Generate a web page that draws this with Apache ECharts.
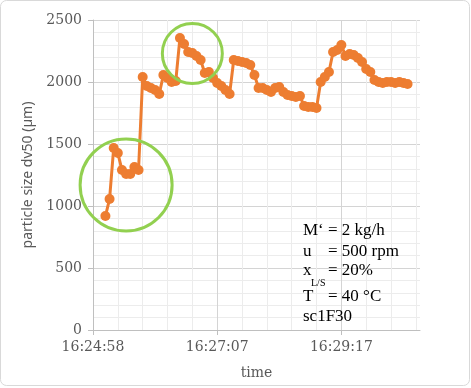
<!DOCTYPE html>
<html><head><meta charset="utf-8">
<script src="https://cdn.jsdelivr.net/npm/echarts@6/dist/echarts.min.js"></script>
<style>html,body{margin:0;padding:0;background:#fff}#c{width:471px;height:388px}</style>
</head><body><div id="c"></div>
<script>
// time categories (one sample every ~4.3 s)
const startTime = '16:24:58';
const stepSeconds = 4.32;
const categoryCount = 80;
const tickLabels = ['16:24:58', '16:27:07', '16:29:17'];
// first measured sample sits at category index 3
const firstIndex = 3;
const dv50 = [919, 1056, 1468, 1427, 1290, 1258, 1258, 1315, 1290,
  2040, 1968, 1952, 1935, 1903, 2056, 2032, 2000, 2008,
  2355, 2306, 2242, 2234, 2210, 2177, 2073, 2081, 2032, 1992, 1968, 1935, 1903,
  2177, 2169, 2161, 2153, 2137, 2056, 1952, 1952, 1935, 1919, 1952, 1960, 1919,
  1895, 1887, 1879, 1887, 1806, 1798, 1798, 1790,
  2000, 2040, 2081, 2242, 2258, 2298, 2210, 2226, 2218, 2194, 2161, 2105, 2081,
  2016, 2000, 1992, 2000, 2000, 1992, 2000, 1992, 1984];
const yTicks = [0, 500, 1000, 1500, 2000, 2500];
// highlighted regions: [category index, value, pixel radius]
const highlights = [[7.5, 1170, 46], [24.3, 2230, 30]];
const annotation = [
  ['M\u2018', '= 2 kg/h'],
  ['u', '= 500 rpm'],
  ['x', '= 20%', 'L/S'],
  ['T', '= 40 \u00b0C'],
  ['sc1F30', '']
];

function fmt(sec){
  const [h,m,s] = startTime.split(':').map(Number);
  let t = h*3600+m*60+s+Math.floor(sec);
  const hh = Math.floor(t/3600), mm = Math.floor(t%3600/60), ss = t%60;
  return hh+':'+String(mm).padStart(2,'0')+':'+String(ss).padStart(2,'0');
}
const categories = [];
for (let i=0;i<categoryCount;i++) categories.push(fmt(i*stepSeconds));
[0,30,60].forEach((k,j)=>categories[k]=tickLabels[j]);
const seriesData = categories.map((c,i)=> (i>=firstIndex && i-firstIndex<dv50.length) ? dv50[i-firstIndex] : '-');

const serif = 'DejaVu Serif';
const chart = echarts.init(document.getElementById('c'), null, {renderer:'canvas'});
const axisGrey = '#bfbfbf';
chart.setOption({
  animation:false,
  backgroundColor:'#fff',
  grid:{left:93,right:51,top:20,bottom:58,containLabel:false},
  xAxis:[{
    type:'category', data:categories, boundaryGap:false,
    name:'time', nameLocation:'middle', nameGap:36,
    nameTextStyle:{fontFamily:serif,fontSize:14,color:'#595959'},
    axisLine:{lineStyle:{color:axisGrey}},
    axisTick:{show:true,interval:29,length:5,lineStyle:{color:axisGrey},alignWithLabel:true},
    axisLabel:{interval:29,fontFamily:serif,fontSize:14,color:'#595959',margin:10,
      formatter:(v)=> tickLabels.includes(v)? v : ''},
    splitLine:{show:true,interval:5,lineStyle:{color:'#ececec',width:1}}
  },{
    type:'category', data:categories, boundaryGap:false, position:'bottom',
    axisLine:{show:false}, axisTick:{show:false}, axisLabel:{show:false},
    splitLine:{show:true,interval:29,lineStyle:{color:'#d4d4d4',width:1}}
  }],
  yAxis:{
    type:'value', min:0, max:2500, interval:500,
    name:'particle size dv50 (\u00b5m)', nameLocation:'middle', nameGap:57,
    nameTextStyle:{fontFamily:'Noto Sans',fontSize:14,color:'#595959'},
    axisLine:{show:true,lineStyle:{color:axisGrey}},
    axisTick:{show:true,length:5,lineStyle:{color:axisGrey}},
    axisLabel:{fontFamily:serif,fontSize:14,color:'#595959',margin:11,
      formatter:(v)=> yTicks.includes(v)? String(v):''},
    splitLine:{show:true,lineStyle:{color:'#d4d4d4'}},
    minorTick:{show:false,splitNumber:5},
    minorSplitLine:{show:true,lineStyle:{color:'#ececec'}}
  },
  series:[{
    type:'line', data:seriesData, xAxisIndex:0,
    symbol:'circle', symbolSize:10, showSymbol:true, showAllSymbol:true,
    itemStyle:{color:'#ED7D31'},
    lineStyle:{color:'#ED7D31',width:3},
    connectNulls:false
  }]
});

const g = [];
g.push({type:'rect',shape:{x:0.5,y:0.5,width:469,height:385,r:6},
  style:{fill:'none',stroke:'#d9d9d9',lineWidth:1},z:-10, silent:true});
highlights.forEach(h=>{
  const p = chart.convertToPixel({seriesIndex:0},[h[0],h[1]]);
  g.push({type:'circle',shape:{cx:p[0],cy:p[1],r:h[2]},
    style:{fill:'none',stroke:'#92D050',lineWidth:3},z:100});
});
const tfont = '17px "Liberation Serif"';
const ax = 303, ex = 328;
const lineY = [231, 252, 271, 297, 317];
annotation.forEach((a,i)=>{
  const y = lineY[i];
  g.push({type:'text',x:ax,y:y,style:{text:a[0],font:tfont,fill:'#000',textVerticalAlign:'middle'},z:101});
  if (a[2]) g.push({type:'text',x:ax+8,y:y+12,style:{text:a[2],font:'10px "Liberation Serif"',fill:'#000',textVerticalAlign:'middle'},z:101});
  if (a[1]) g.push({type:'text',x:ex,y:y,style:{text:a[1],font:tfont,fill:'#000',textVerticalAlign:'middle'},z:101});
});
chart.setOption({graphic:g});
</script></body></html>
